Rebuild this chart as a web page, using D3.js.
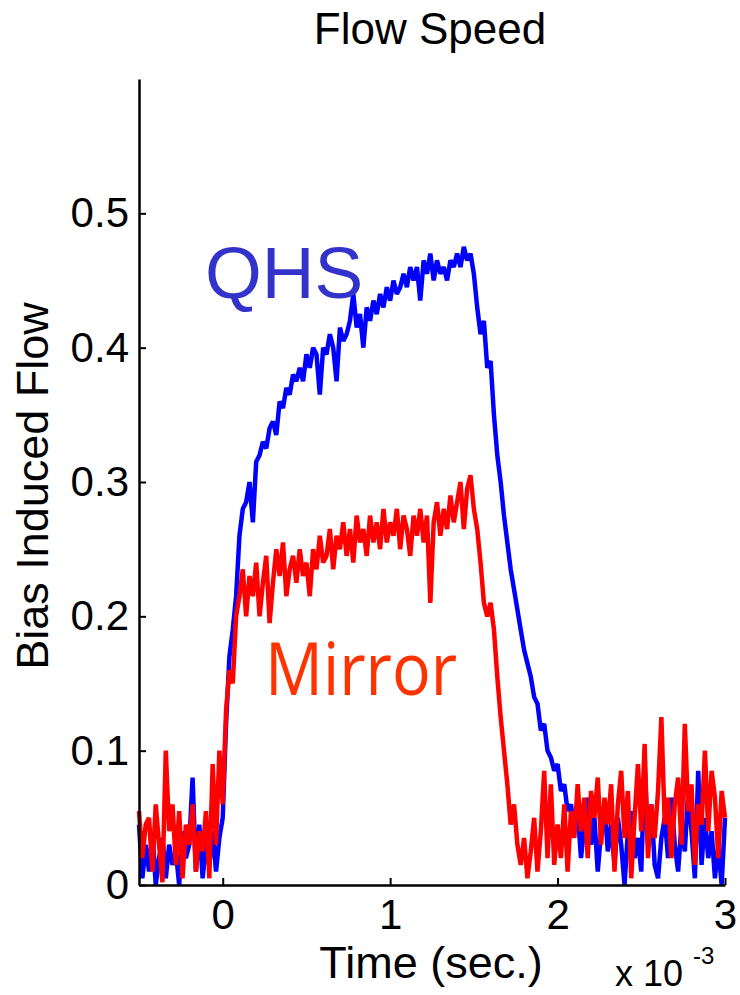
<!DOCTYPE html>
<html><head><meta charset="utf-8">
<script src="https://cdn.jsdelivr.net/npm/d3@7"></script>
<style>body{margin:0;background:#fff} svg{display:block}</style>
</head><body><svg id="c" width="740" height="995"></svg>
<script>
// sampling grid (ms): starts at -0.5, step 0.02
const timeStart = -0.5, timeStep = 0.02;

const qhs = [
0.045,0.005,0.03,0.01,0.04,0.0,0.02,0.035,0.005,0.03,0.015,0.025,0.0,0.04,0.02,0.03,0.08,0.01,0.045,0.005,0.03,0.015,0.04,0.01,0.035,0.05,
0.12,0.17,0.19,0.215,0.26,0.28,0.285,0.3,0.27,0.315,
0.32,0.33,0.325,0.34,0.345,0.335,0.36,0.355,0.37,0.365,
0.38,0.375,0.385,0.375,0.395,0.385,0.4,0.395,0.365,0.4,
0.395,0.41,0.4,0.375,0.415,0.405,0.41,0.42,0.44,0.415,
0.425,0.4,0.43,0.42,0.435,0.425,0.44,0.43,0.445,0.435,
0.45,0.44,0.445,0.455,0.445,0.46,0.45,0.46,0.435,0.465,
0.455,0.47,0.45,0.465,0.455,0.46,0.45,0.465,0.46,0.47,
0.46,0.475,0.465,0.47,
0.455,0.43,0.41,0.42,0.385,0.39,0.35,0.32,0.3,0.275,
0.255,0.235,0.22,0.205,0.19,0.175,0.165,0.155,0.14,0.135,
0.115,0.12,0.1,0.095,0.085,0.09,0.07,0.075,0.055,0.06,
0.04,
0.055,0.02,0.045,0.065,0.03,0.05,0.01,0.04,0.06,
0.025,0.045,0.015,0.05,0.03,0.0,0.04,0.055,0.02,0.035,
0.01,0.09,0.03,0.06,0.015,0.005,0.035,0.05,0.02,0.065,
0.03,0.01,0.045,0.025,0.07,0.04,0.005,0.085,0.015,0.05,
0.02,0.04,0.005,0.03,0.0,0.05
];

const mirror = [
0.055,0.02,0.045,0.05,0.01,0.06,0.03,0.002,0.1,0.04,0.06,0.015,0.055,0.005,0.045,0.03,0.06,0.01,0.04,0.025,0.055,0.005,0.09,0.03,0.1,0.06,
0.13,0.16,0.15,0.2,0.215,0.235,0.2,0.23,0.215,0.24,
0.2,0.225,0.245,0.195,0.225,0.25,0.23,0.255,0.215,0.235,
0.245,0.225,0.25,0.23,0.24,0.215,0.25,0.235,0.26,0.24,
0.245,0.265,0.235,0.26,0.25,0.27,0.245,0.265,0.24,0.275,
0.255,0.265,0.245,0.275,0.255,0.27,0.25,0.28,0.255,0.27,
0.26,0.28,0.25,0.275,0.265,0.245,0.275,0.26,0.28,0.255,
0.275,0.21,0.27,0.285,0.26,0.28,0.265,0.29,0.27,0.285,
0.3,0.265,0.295,0.305,
0.28,0.265,0.24,0.21,0.2,0.21,0.19,0.155,0.125,0.1,
0.075,0.045,0.06,0.03,0.015,0.035,0.005,0.025,0.05,0.01,
0.04,0.085,0.02,0.075,0.015,0.045,0.02,0.06,0.01,0.055,
0.035,
0.075,0.04,0.065,0.02,0.07,0.05,0.08,0.03,0.065,
0.045,0.075,0.01,0.06,0.085,0.035,0.07,0.005,0.05,0.09,
0.04,0.105,0.02,0.06,0.035,0.07,0.125,0.045,0.065,0.02,
0.06,0.08,0.03,0.12,0.055,0.075,0.015,0.06,0.045,0.1,
0.04,0.085,0.065,0.02,0.07,0.05
];

const xTickValues = [0, 1, 2, 3];
const yTickValues = [0, 0.1, 0.2, 0.3, 0.4, 0.5];
const titleText = "Flow Speed";
const xLabel = "Time (sec.)";
const yLabel = "Bias Induced Flow";
const seriesNames = ["QHS", "Mirror"];

const svg = d3.select("#c");
const x = d3.scaleLinear().domain([-0.5, 3]).range([139, 725]);
const y = d3.scaleLinear().domain([0, 0.6]).range([885, 79]);
const font = "'Liberation Sans', Arial, sans-serif";

const toPts = arr => arr.map((v, i) => [timeStart + i * timeStep, v]);
const line = d3.line().x(d => x(d[0])).y(d => y(d[1]));

svg.append("path").datum(toPts(qhs)).attr("d", line)
  .attr("fill", "none").attr("stroke", "#0000ff").attr("stroke-width", 4.5).attr("stroke-linejoin", "bevel");
svg.append("path").datum(toPts(mirror)).attr("d", line)
  .attr("fill", "none").attr("stroke", "#ff0000").attr("stroke-width", 4.5).attr("stroke-linejoin", "bevel");

// axes
const yAxis = d3.axisLeft(y).tickValues(yTickValues).tickSizeInner(-7).tickSizeOuter(0).tickPadding(10)
  .tickFormat(d => d === 0 ? "0" : d3.format(".1f")(d));
const gy = svg.append("g").attr("transform", "translate(139,0)").call(yAxis);
const xAxis = d3.axisBottom(x).tickValues(xTickValues).tickSizeInner(-7).tickSizeOuter(0).tickPadding(14)
  .tickFormat(d3.format("d"));
const gx = svg.append("g").attr("transform", "translate(0,885)").call(xAxis);
[gx, gy].forEach(g => {
  g.select(".domain").attr("stroke", "#000").attr("stroke-width", 2.5);
  g.selectAll(".tick line").attr("stroke", "#000").attr("stroke-width", 2);
  g.selectAll(".tick text").attr("fill", "#000").style("font-family", font).style("font-size", "42px");
});

// title & labels
svg.append("text").attr("x", 430).attr("y", 44).attr("text-anchor", "middle")
  .style("font-family", font).style("font-size", "44px").text(titleText);
svg.append("text").attr("x", 431).attr("y", 978).attr("text-anchor", "middle")
  .style("font-family", font).style("font-size", "45px").text(xLabel);
svg.append("text").attr("transform", "translate(48,486) rotate(-90)").attr("text-anchor", "middle")
  .style("font-family", font).style("font-size", "45px").text(yLabel);
svg.append("text").attr("x", 615).attr("y", 986)
  .style("font-family", font).style("font-size", "36px").text("x 10");
svg.append("text").attr("x", 693).attr("y", 964)
  .style("font-family", font).style("font-size", "24px").text("-3");

// series annotations
svg.append("text").attr("x", 205).attr("y", 298)
  .style("font-family", font).style("font-size", "73px").attr("fill", "#3333cc").text(seriesNames[0]);
svg.append("text").attr("x", 265).attr("y", 695)
  .attr("textLength", 192).attr("lengthAdjust", "spacingAndGlyphs")
  .style("font-family", "'Open Sans', sans-serif").style("font-size", "74px").attr("fill", "#ff3300").text(seriesNames[1]);
</script>
</body></html>
